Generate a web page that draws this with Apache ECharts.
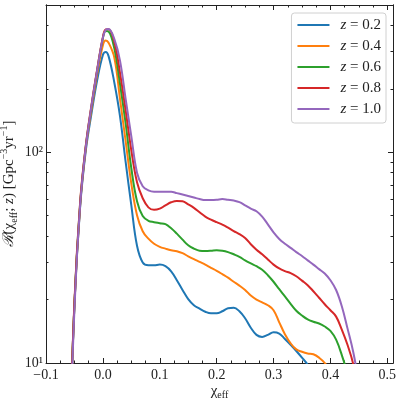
<!DOCTYPE html>
<html>
<head>
<meta charset="utf-8">
<script src="https://cdn.jsdelivr.net/npm/echarts@6/dist/echarts.min.js"></script>
<style>
  html, body { margin: 0; padding: 0; background: #fff; }
  #main { width: 400px; height: 400px; }
</style>
</head>
<body>
<div id="main"></div>
<script>
// chi_eff grid the curves were read on
const chiEff = [-0.06, -0.05, -0.04, -0.03, -0.02, -0.01, 0, 0.005, 0.01,
  0.02, 0.03, 0.04, 0.05, 0.06, 0.07, 0.08, 0.09, 0.10, 0.11, 0.12, 0.13, 0.14,
  0.15, 0.16, 0.17, 0.18, 0.19, 0.20, 0.21, 0.22, 0.23, 0.24, 0.25, 0.26, 0.27,
  0.28, 0.29, 0.30, 0.31, 0.32, 0.33, 0.34, 0.35, 0.36, 0.37, 0.38, 0.39, 0.40,
  0.41, 0.42, 0.43, 0.44, 0.45, 0.46];

const rateZ02 = [3, 19, 55, 102, 153, 220, 290, 299, 286,
  215, 149, 90, 56, 36, 30, 29.1, 29.1, 29.3, 28.8, 27.2, 24.7, 22.2,
  20.1, 18.8, 18.1, 17.5, 17.2, 17.2, 17.6, 18.2, 18.3, 17.6, 16.3, 14.7, 13.6,
  13.3, 13.6, 14.0, 13.8, 13.0, 12.2, 11.4, 10.6, 9.8, 8.5, 7];
const rateZ04 = [3, 19, 56, 105, 160, 235, 322, 339, 331,
  282, 180, 113, 71, 50.3, 42.2, 38.9, 36.8, 35.6, 34.9, 34.3, 33.9, 33.2,
  32.1, 31.1, 30.2, 29.3, 28.3, 27.4, 26.4, 25.4, 24.3, 23.3, 22.2, 20.9, 20.0,
  19.4, 18.8, 17.8, 15.6, 13.7, 12.4, 11.6, 11.3, 11.1, 11.0, 10.6, 10.0, 9.0,
  7];
const rateZ06 = [3, 19, 57, 107, 165, 245, 348, 376, 374,
  312, 212, 137, 84, 58.6, 49.8, 47.3, 46.6, 46.1, 45.6, 43.6, 41.1, 38.5,
  36.2, 34.9, 34.1, 34.0, 34.1, 34.3, 34.1, 33.6, 32.8, 31.9, 30.7, 29.7, 28.8,
  27.7, 26.1, 24.3, 22.4, 20.7, 19.1, 17.7, 16.8, 16.1, 15.7, 15.4, 14.9, 14.2,
  12.9, 10.9, 8.8, 6];
const rateZ08 = [3, 19.5, 58, 108, 168, 248, 352, 383, 384,
  335, 239, 158, 102, 72, 60.5, 54.8, 53.3, 54, 56, 57.9, 58.8, 58.5,
  56.6, 54.5, 51.9, 49.5, 47.9, 46.6, 45.4, 43.9, 42.3, 40.9, 39.2, 36.6, 34.5,
  32.8, 31.0, 29.3, 28.1, 27.3, 26.7, 25.8, 24.6, 23.4, 21.9, 20.4, 19.0, 17.8,
  16.6, 14.4, 12.2, 9.9, 7];
const rateZ10 = [2.8, 18, 56, 106, 166, 245, 350, 381, 385,
  345, 273, 179, 119, 80, 69, 66, 65, 65, 65, 65, 64, 63,
  62, 61, 60, 59.3, 59.3, 59.5, 60, 59.5, 59, 58, 56, 54, 52.5,
  49.5, 45.5, 41.7, 38.8, 36.8, 35.2, 33.6, 32.2, 30.7, 29.3, 27.9, 26.6, 24.7,
  22.2, 18.6, 14.6, 11.3, 8, 5];

const seriesNames = ['z = 0.2', 'z = 0.4', 'z = 0.6', 'z = 0.8', 'z = 1.0'];
const seriesRates = [rateZ02, rateZ04, rateZ06, rateZ08, rateZ10];
const colors = ['#1f77b4', '#ff7f0e', '#2ca02c', '#d62728', '#9467bd'];

const yMajor = [10, 100];
const yMinor = [20, 30, 40, 50, 60, 70, 80, 90, 200, 300, 400];

const serif = '"Liberation Serif", "DejaVu Serif", serif';
const ink = '#222';
const supDigits = { '1': '\u00b9', '2': '\u00b2', '3': '\u00b3' };

function makeSeries(name, rates, i) {
  return {
    name: name,
    type: 'line',
    data: rates.map((v, k) => [chiEff[k], v]),
    smooth: 0.4,
    symbol: 'none',
    lineStyle: { width: 2, color: colors[i] },
    itemStyle: { color: colors[i] },
    clip: true
  };
}

function xAxisCfg(pos, labels) {
  return {
    type: 'value', position: pos, min: -0.1, max: 0.51, interval: 0.1,
    axisLine: { show: true, onZero: false, lineStyle: { color: ink, width: 1 } },
    axisTick: { show: true, inside: true, length: 5, lineStyle: { color: ink } },
    minorTick: { show: true, splitNumber: 4, length: 2.5, lineStyle: { color: ink } },
    splitLine: { show: false },
    axisLabel: {
      show: labels, showMaxLabel: false, margin: 5,
      fontFamily: serif, fontSize: 14, color: ink,
      formatter: v => v.toFixed(1).replace('-', '\u2212')
    }
  };
}

function yAxisCfg(pos, ticks, len, labels) {
  return {
    type: 'log', position: pos, min: 10, max: 500,
    axisLine: { show: true, onZero: false, lineStyle: { color: ink, width: 1 } },
    axisTick: { show: true, inside: true, length: len, customValues: ticks, lineStyle: { color: ink } },
    splitLine: { show: false },
    axisLabel: {
      show: labels, customValues: yMajor, margin: 3,
      fontFamily: serif, fontSize: 14, color: ink,
      formatter: v => '10' + supDigits[String(Math.round(Math.log10(v)))]
    }
  };
}

const chart = echarts.init(document.getElementById('main'));

const yName = yAxisCfg('left', yMajor, 5, true);
yName.name = '{i|\u211b}(\u03c7{sub|eff}; {i|z}) [Gpc{sup|\u22123}yr{sup|\u22121}]';
yName.nameLocation = 'middle';
yName.nameGap = 27;
yName.nameRotate = 90;
yName.nameMoveOverlap = false;
yName.nameTextStyle = {
  fontFamily: serif, fontSize: 15, color: ink, lineHeight: 20,
  rich: {
    i: { fontFamily: serif, fontStyle: 'italic', fontSize: 15, color: ink },
    sub: { fontFamily: serif, fontSize: 10, color: ink, verticalAlign: 'bottom', lineHeight: 12 },
    sup: { fontFamily: serif, fontSize: 10, color: ink, verticalAlign: 'top', lineHeight: 12 }
  }
};

const xName = xAxisCfg('bottom', true);
xName.name = '\u03c7{sub|eff}';
xName.nameLocation = 'middle';
xName.nameGap = 19;
xName.nameMoveOverlap = false;
xName.nameTextStyle = {
  fontFamily: serif, fontSize: 15, color: ink, lineHeight: 18, verticalAlign: 'top',
  rich: {
    sub: { fontFamily: serif, fontSize: 10, color: ink, verticalAlign: 'bottom', lineHeight: 12 }
  }
};

const option = {
  animation: false,
  backgroundColor: '#fff',
  grid: { left: 46, right: 7, top: 5, bottom: 37, outerBoundsMode: 'none', containLabel: false },
  legend: {
    orient: 'vertical', right: 14, top: 13,
    data: seriesNames,
    icon: 'rect', itemWidth: 32, itemHeight: 2, itemGap: 5,
    borderColor: '#d0d0d0', borderWidth: 1, borderRadius: 3,
    padding: [4, 5, 6, 6],
    formatter: name => '{i|z}' + name.slice(1),
    textStyle: {
      fontFamily: serif, fontSize: 15, color: ink, lineHeight: 16,
      rich: { i: { fontFamily: serif, fontStyle: 'italic', fontSize: 15, color: ink, padding: [0, 0, 0, 6] } }
    }
  },
  xAxis: [xName, xAxisCfg('top', false)],
  yAxis: [
    yName,
    yAxisCfg('left', yMinor, 2.5, false),
    yAxisCfg('right', yMajor, 5, false),
    yAxisCfg('right', yMinor, 2.5, false)
  ],
  series: seriesNames.map((n, i) => makeSeries(n, seriesRates[i], i))
};

chart.setOption(option);
</script>
</body>
</html>
